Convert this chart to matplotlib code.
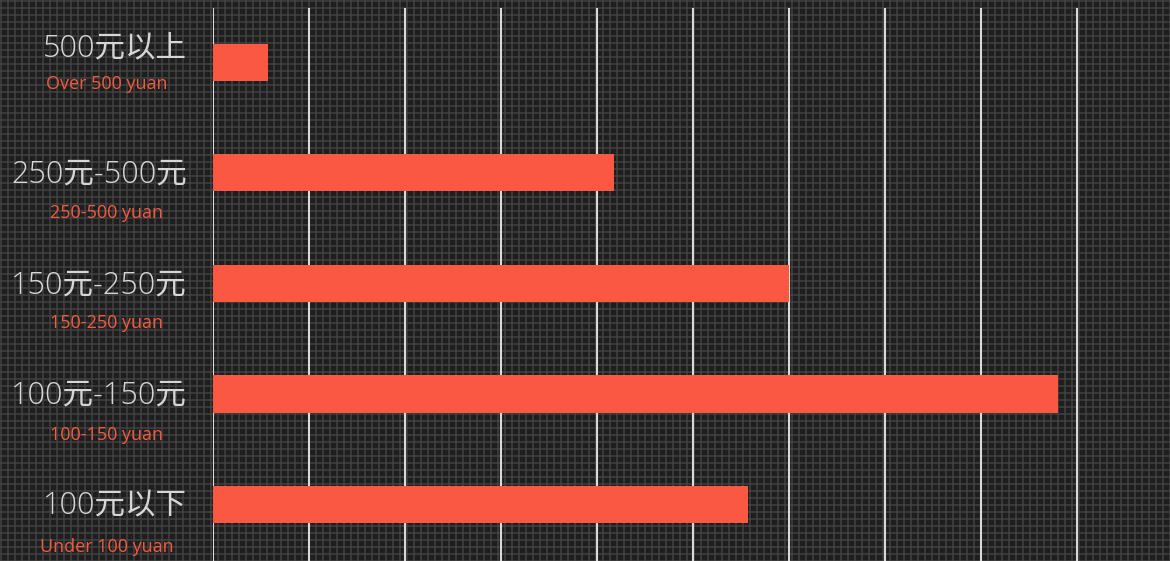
import matplotlib
matplotlib.use("Agg")
import matplotlib.pyplot as plt
import numpy as np

# 价格区间分布 (%)
labels_cn = ["500元以上", "250元-500元", "150元-250元", "100元-150元", "100元以下"]
labels_en = ["Over 500 yuan", "250-500 yuan", "150-250 yuan", "100-150 yuan", "Under 100 yuan"]
values = [2.3, 16.7, 24.0, 35.2, 22.3]

# label offsets (pixels, relative to bar centre)
cn_dy = [13.5, -2, -2, -2, -2]
en_dy = [-21.5, -40.5, -39.5, -41.5, -42]

W, H = 1170, 561
fig = plt.figure(figsize=(W / 100, H / 100), dpi=100)
fig.patch.set_facecolor("#262626")

# textured background
yy, xx = np.indices((H, W))
tex = np.full((H, W), 0.12)
tex[(xx % 7 < 2) | (yy % 7 < 2)] = 0.22
tex[((xx % 7 < 2) & (yy % 7 < 2))] = 0.26
fig.figimage(tex, cmap="gray", vmin=0, vmax=1, zorder=0)

ax = fig.add_axes([213 / W, 0, 1 - 213 / W, (H - 8) / H])
ax.set_zorder(2)
ax.patch.set_alpha(0)

y = np.arange(len(values))
ax.barh(y, values, height=0.335, color="#fa5843", zorder=3)

ax.set_xlim(0, 39.875)
ax.set_ylim(4.51, -0.49)
ax.set_xticks(np.arange(0, 37, 4))
ax.grid(axis="x", color="#d9d9d9", linewidth=1.5, zorder=1)
ax.tick_params(length=0, labelbottom=False, labelleft=False)
for s in ax.spines.values():
    s.set_visible(False)

cn_fam = ["Open Sans", "Noto Sans CJK SC", "DejaVu Sans"]
en_fam = ["Open Sans", "DejaVu Sans"]
tr = ax.get_yaxis_transform()
for i in range(len(values)):
    ax.annotate(labels_cn[i], xy=(0, i), xycoords=tr, xytext=(-26, cn_dy[i]),
                textcoords="offset pixels", ha="right", va="center",
                fontsize=22, weight="light", color="#d6d6d6", family=cn_fam,
                annotation_clip=False)
    ax.annotate(labels_en[i], xy=(0, i), xycoords=tr, xytext=(-106, en_dy[i]),
                textcoords="offset pixels", ha="center", va="center",
                fontsize=13, color="#f25a40", family=en_fam, annotation_clip=False)

fig.savefig("out.png", dpi=100, facecolor=fig.get_facecolor())
